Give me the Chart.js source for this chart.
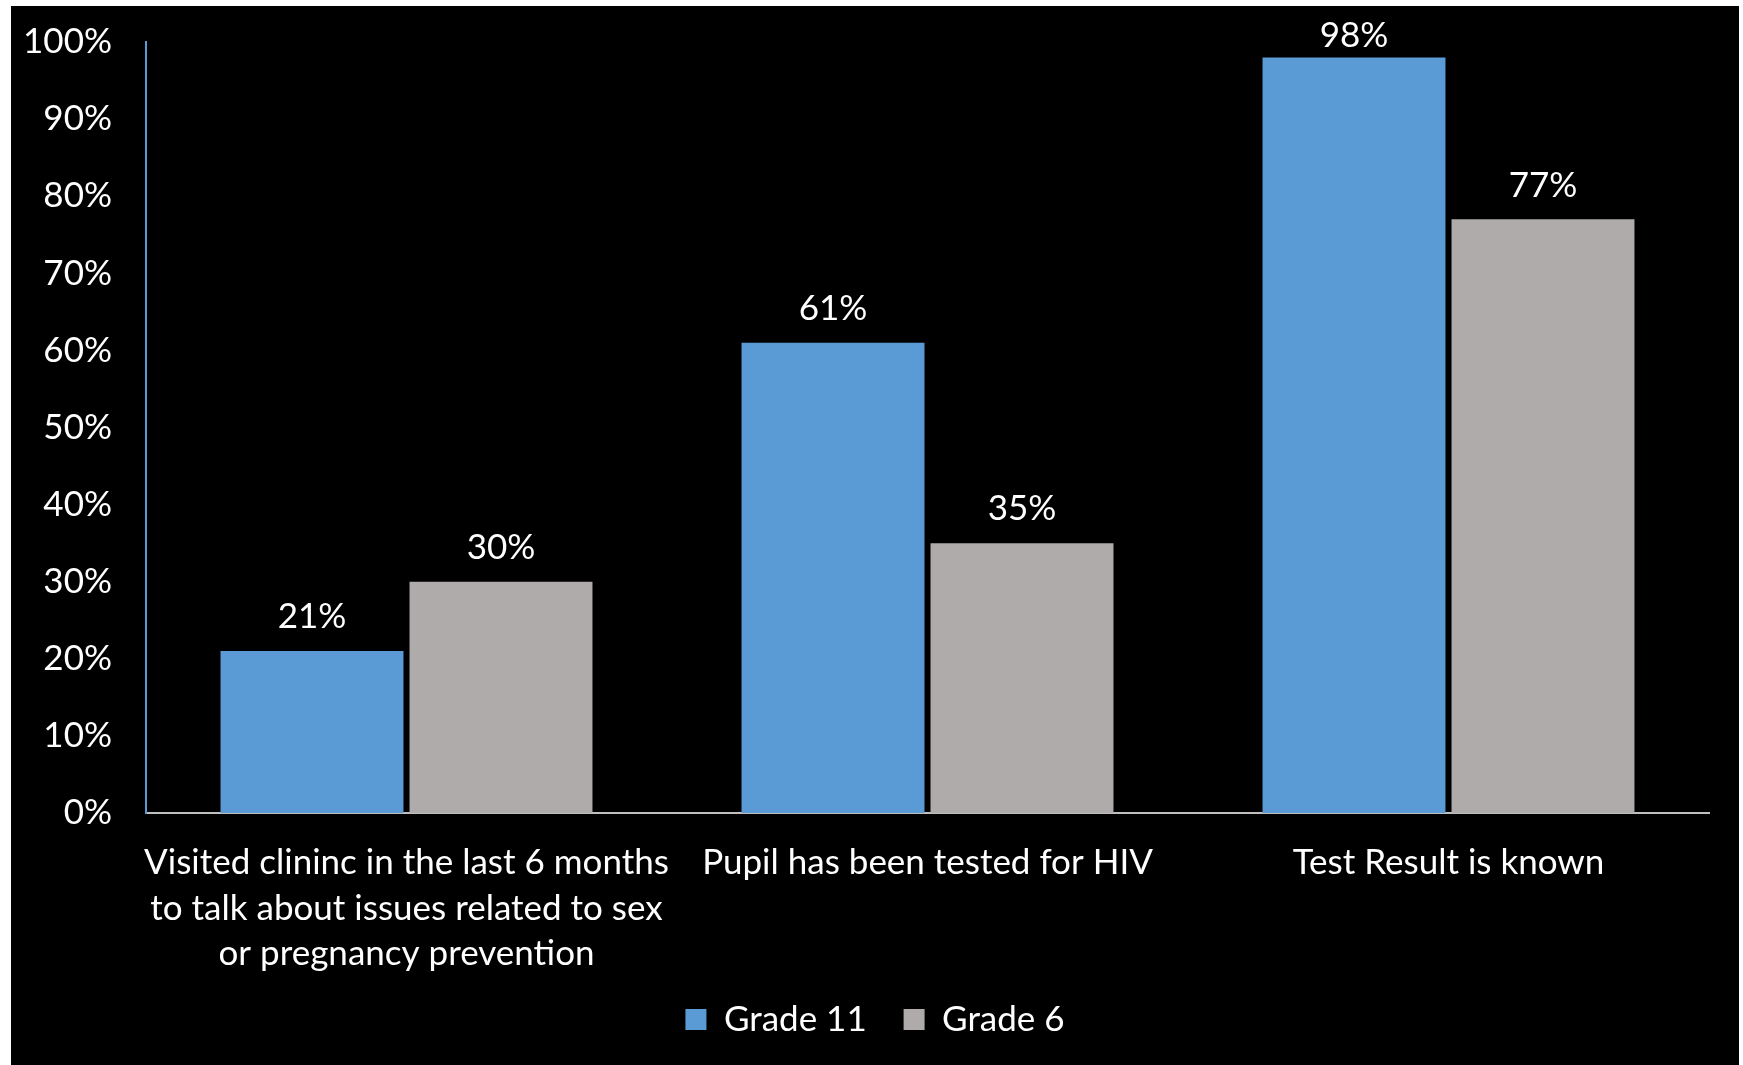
<!DOCTYPE html>
<html>
<head>
<meta charset="utf-8">
<script src="https://cdn.jsdelivr.net/npm/chart.js@4/dist/chart.umd.min.js"></script>
<style>
    html, body { margin: 0; padding: 0; background: #ffffff; }
    #wrap { position: absolute; left: 11px; top: 6px; width: 1728px; height: 1059px; background: #000000; }
</style>
</head>
<body>
<div id="wrap"><canvas id="chart"></canvas></div>
<script>
const categories = [
    ['Visited clininc in the last 6 months', 'to talk about issues related to sex', 'or pregnancy prevention'],
    'Pupil has been tested for HIV',
    'Test Result is known',
]
const grade11 = [21, 61, 98]
const grade6 = [30, 35, 77]
const yTicks = [0, 10, 20, 30, 40, 50, 60, 70, 80, 90, 100]

const FONT = 'Lato'
const SIZE = 35

// value above each bar, pushed down when it would leave the top of the chart
const valueLabels = {
    id: 'valueLabels',
    afterDatasetsDraw(chart) {
        const { ctx, data, chartArea } = chart
        ctx.save()
        ctx.font = `${SIZE}px ${FONT}`
        ctx.fillStyle = '#ffffff'
        ctx.textAlign = 'center'
        ctx.textBaseline = 'middle'
        data.datasets.forEach((ds, i) => {
            chart.getDatasetMeta(i).data.forEach((bar, j) => {
                const y = Math.max(bar.y - 34, chartArea.top - 6)
                ctx.fillText(ds.data[j] + '%', bar.x, y)
            })
        })
        ctx.restore()
    },
}

new Chart(document.getElementById('chart'), {
    type: 'bar',
    data: {
        labels: categories,
        datasets: [
            { label: 'Grade 11', data: grade11, backgroundColor: '#5B9BD5' },
            { label: 'Grade 6', data: grade6, backgroundColor: '#AFABAB' },
        ],
    },
    options: {
        responsive: true,
        maintainAspectRatio: false,
        animation: false,
        categoryPercentage: 0.7255,
        barPercentage: 0.968,
        layout: { padding: { top: 36, right: 0, bottom: 18, left: 0 } },
        scales: {
            x: {
                grid: { display: false, drawTicks: false },
                border: { color: '#BFBFBF', width: 2 },
                ticks: {
                    color: '#ffffff',
                    font: { family: FONT, size: SIZE, lineHeight: 1.3 },
                    padding: 27,
                    maxRotation: 0,
                    autoSkip: false,
                },
                afterFit(scale) { scale.height = 179 },
            },
            y: {
                min: 0,
                max: 100,
                afterBuildTicks(scale) { scale.ticks = yTicks.map(value => ({ value })) },
                grid: { display: false, drawTicks: false },
                border: { color: '#5B9BD5', width: 2 },
                ticks: {
                    color: '#ffffff',
                    font: { family: FONT, size: SIZE },
                    padding: 34,
                    callback: value => value + '%',
                },
                afterFit(scale) {
                    scale.width = 135
                    scale.paddingTop = 0
                    scale.paddingBottom = 0
                },
            },
            // empty right gutter so the legend centres like the original
            gutter: {
                position: 'right',
                grid: { display: false, drawTicks: false },
                border: { display: false },
                ticks: { display: false },
                afterFit(scale) {
                    scale.width = 30
                    scale.paddingTop = 0
                    scale.paddingBottom = 0
                },
            },
        },
        plugins: {
            tooltip: { enabled: false },
            legend: {
                position: 'bottom',
                labels: {
                    color: '#ffffff',
                    font: { family: FONT, size: SIZE },
                    boxWidth: 21,
                    boxHeight: 21,
                    padding: 10,
                    generateLabels(chart) {
                        const items = Chart.defaults.plugins.legend.labels.generateLabels(chart)
                        items.forEach((item, i) => {
                            if (i < items.length - 1) item.text += '   '
                        })
                        return items
                    },
                },
            },
        },
    },
    plugins: [valueLabels],
})
</script>
</body>
</html>
